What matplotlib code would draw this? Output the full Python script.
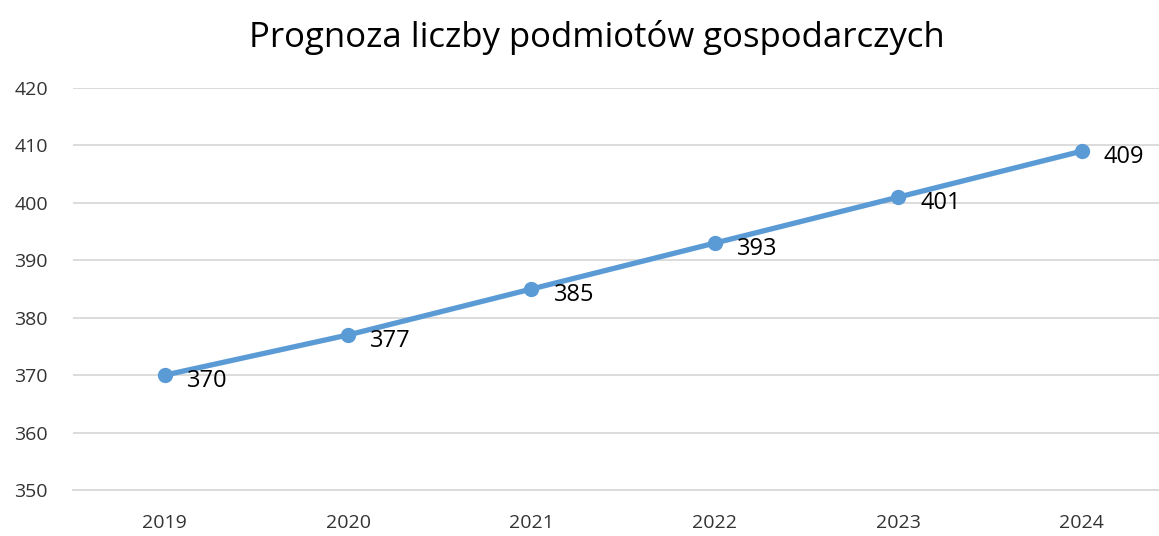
import matplotlib.pyplot as plt

plt.rcParams['font.family'] = ['Open Sans', 'DejaVu Sans']

# data
years = ["2019", "2020", "2021", "2022", "2023", "2024"]
values = [370, 377, 385, 393, 401, 409]
y_ticks = [350, 360, 370, 380, 390, 400, 410, 420]

fig = plt.figure(figsize=(11.59, 5.36), dpi=100)
# the plot area runs past the right edge of the picture in the original
ax = fig.add_axes([0.063, 0.0858, 0.9494, 0.75])

x = list(range(len(years)))
ax.plot(x, values, color="#5B9BD5", linewidth=3.8, marker="o",
        markersize=10, zorder=3, clip_on=False)

# value labels to the right of each point
for xi, v in zip(x, values):
    ax.annotate(str(v), (xi, v), xytext=(16, -4), textcoords="offset points",
                ha="left", va="center", fontsize=17, color="black")

ax.set_xlim(-0.5, len(years) - 0.5)
ax.set_ylim(350, 420)
ax.set_xticks(x)
ax.set_xticklabels(years)
ax.set_yticks(y_ticks)
ax.tick_params(axis="both", length=0, labelsize=14, colors="#333333")
ax.tick_params(axis="x", pad=17)
ax.tick_params(axis="y", pad=18)

ax.grid(axis="y", color="#D9D9D9", linewidth=1.3)
ax.set_axisbelow(True)
for side in ["top", "right", "left"]:
    ax.spines[side].set_visible(False)
ax.spines["bottom"].set_color("#D9D9D9")
ax.spines["bottom"].set_linewidth(1.3)

fig.suptitle("Prognoza liczby podmiotów gospodarczych", fontsize=25,
             x=0.515, y=0.963, va="top")

fig.savefig("out.png", dpi=100)
